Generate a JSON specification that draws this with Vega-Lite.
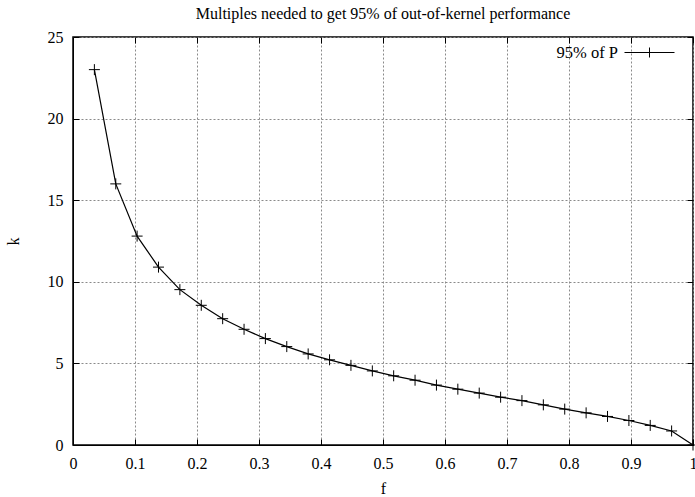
{
  "$schema": "https://vega.github.io/schema/vega-lite/v6.json",
  "autosize": {"type": "none"},
  "padding": {"left": 73, "top": 37, "right": 2, "bottom": 52},
  "width": 620,
  "height": 408,
  "background": "white",
  "title": {
    "text": "Multiples needed to get 95% of out-of-kernel performance",
    "font": "Liberation Serif",
    "fontSize": 16,
    "fontWeight": "normal",
    "color": "black",
    "anchor": "middle",
    "offset": 5
  },
  "config": {
    "font": "Liberation Serif",
    "view": {"stroke": "black", "strokeWidth": 1.5},
    "axis": {
      "labelFont": "Liberation Serif",
      "titleFont": "Liberation Serif",
      "labelFontSize": 16,
      "titleFontSize": 16,
      "titleFontWeight": "normal",
      "labelColor": "black",
      "titleColor": "black",
      "domainColor": "black",
      "tickColor": "black",
      "gridColor": "#8a8a8a",
      "gridDash": [2, 2],
      "gridWidth": 1
    }
  },
  "data": {
    "values": [
      {"f": 0.0345, "k": 23.0, "series": "95% of P"},
      {"f": 0.069, "k": 16.0, "series": "95% of P"},
      {"f": 0.1034, "k": 12.8, "series": "95% of P"},
      {"f": 0.1379, "k": 10.9, "series": "95% of P"},
      {"f": 0.1724, "k": 9.52, "series": "95% of P"},
      {"f": 0.2069, "k": 8.56, "series": "95% of P"},
      {"f": 0.2414, "k": 7.74, "series": "95% of P"},
      {"f": 0.2759, "k": 7.09, "series": "95% of P"},
      {"f": 0.3103, "k": 6.52, "series": "95% of P"},
      {"f": 0.3448, "k": 6.03, "series": "95% of P"},
      {"f": 0.3793, "k": 5.58, "series": "95% of P"},
      {"f": 0.4138, "k": 5.22, "series": "95% of P"},
      {"f": 0.4483, "k": 4.88, "series": "95% of P"},
      {"f": 0.4828, "k": 4.54, "series": "95% of P"},
      {"f": 0.5172, "k": 4.24, "series": "95% of P"},
      {"f": 0.5517, "k": 3.97, "series": "95% of P"},
      {"f": 0.5862, "k": 3.67, "series": "95% of P"},
      {"f": 0.6207, "k": 3.42, "series": "95% of P"},
      {"f": 0.6552, "k": 3.18, "series": "95% of P"},
      {"f": 0.6897, "k": 2.93, "series": "95% of P"},
      {"f": 0.7241, "k": 2.72, "series": "95% of P"},
      {"f": 0.7586, "k": 2.46, "series": "95% of P"},
      {"f": 0.7931, "k": 2.2, "series": "95% of P"},
      {"f": 0.8276, "k": 1.97, "series": "95% of P"},
      {"f": 0.8621, "k": 1.75, "series": "95% of P"},
      {"f": 0.8966, "k": 1.5, "series": "95% of P"},
      {"f": 0.931, "k": 1.2, "series": "95% of P"},
      {"f": 0.9655, "k": 0.86, "series": "95% of P"},
      {"f": 1.0, "k": 0.0, "series": "95% of P"}
    ]
  },
  "resolve": {"axis": {"x": "independent", "y": "independent"}},
  "layer": [
    {
      "mark": {"type": "line", "strokeWidth": 1.2, "clip": true},
      "encoding": {
        "x": {
          "field": "f", "type": "quantitative",
          "scale": {"domain": [0, 1], "nice": false, "zero": false},
          "axis": {"title": "f", "values": [0, 0.1, 0.2, 0.3, 0.4, 0.5, 0.6, 0.7, 0.8, 0.9, 1], "tickSize": -6, "labelPadding": 16, "titlePadding": 9, "grid": true, "labelFlush": false, "labelOverlap": false, "format": "~g"}
        },
        "y": {
          "field": "k", "type": "quantitative",
          "scale": {"domain": [0, 25], "nice": false},
          "axis": {"title": "k", "values": [0, 5, 10, 15, 20, 25], "tickSize": -6, "labelPadding": 16, "titlePadding": 26, "grid": true, "labelFlush": false, "labelOverlap": false}
        },
        "color": {
          "field": "series", "type": "nominal",
          "scale": {"range": ["black"]},
          "legend": {
            "title": null,
            "orient": "none",
            "legendX": 551,
            "legendY": -10,
            "padding": 0,
            "symbolType": "M-1,0H1M0,-0.2V0.2",
            "symbolSize": 2500,
            "symbolStrokeWidth": 1,
            "symbolStrokeColor": "black",
            "symbolFillColor": "transparent",
            "labelFont": "Liberation Serif",
            "labelFontSize": 16.5,
            "labelColor": "black",
            "labelAlign": "right",
            "labelOffset": -57
          }
        }
      }
    },
    {
      "mark": {"type": "point", "shape": "M-1,0H1M0,-1V1", "size": 121, "filled": false, "color": "black", "strokeWidth": 1, "opacity": 1},
      "encoding": {
        "x": {
          "field": "f", "type": "quantitative",
          "axis": {"orient": "top", "title": null, "labels": false, "grid": false, "domain": false, "tickSize": -6, "values": [0, 0.1, 0.2, 0.3, 0.4, 0.5, 0.6, 0.7, 0.8, 0.9, 1]}
        },
        "y": {
          "field": "k", "type": "quantitative",
          "axis": {"orient": "right", "title": null, "labels": false, "grid": false, "domain": false, "tickSize": -6, "values": [0, 5, 10, 15, 20, 25]}
        }
      }
    }
  ]
}
